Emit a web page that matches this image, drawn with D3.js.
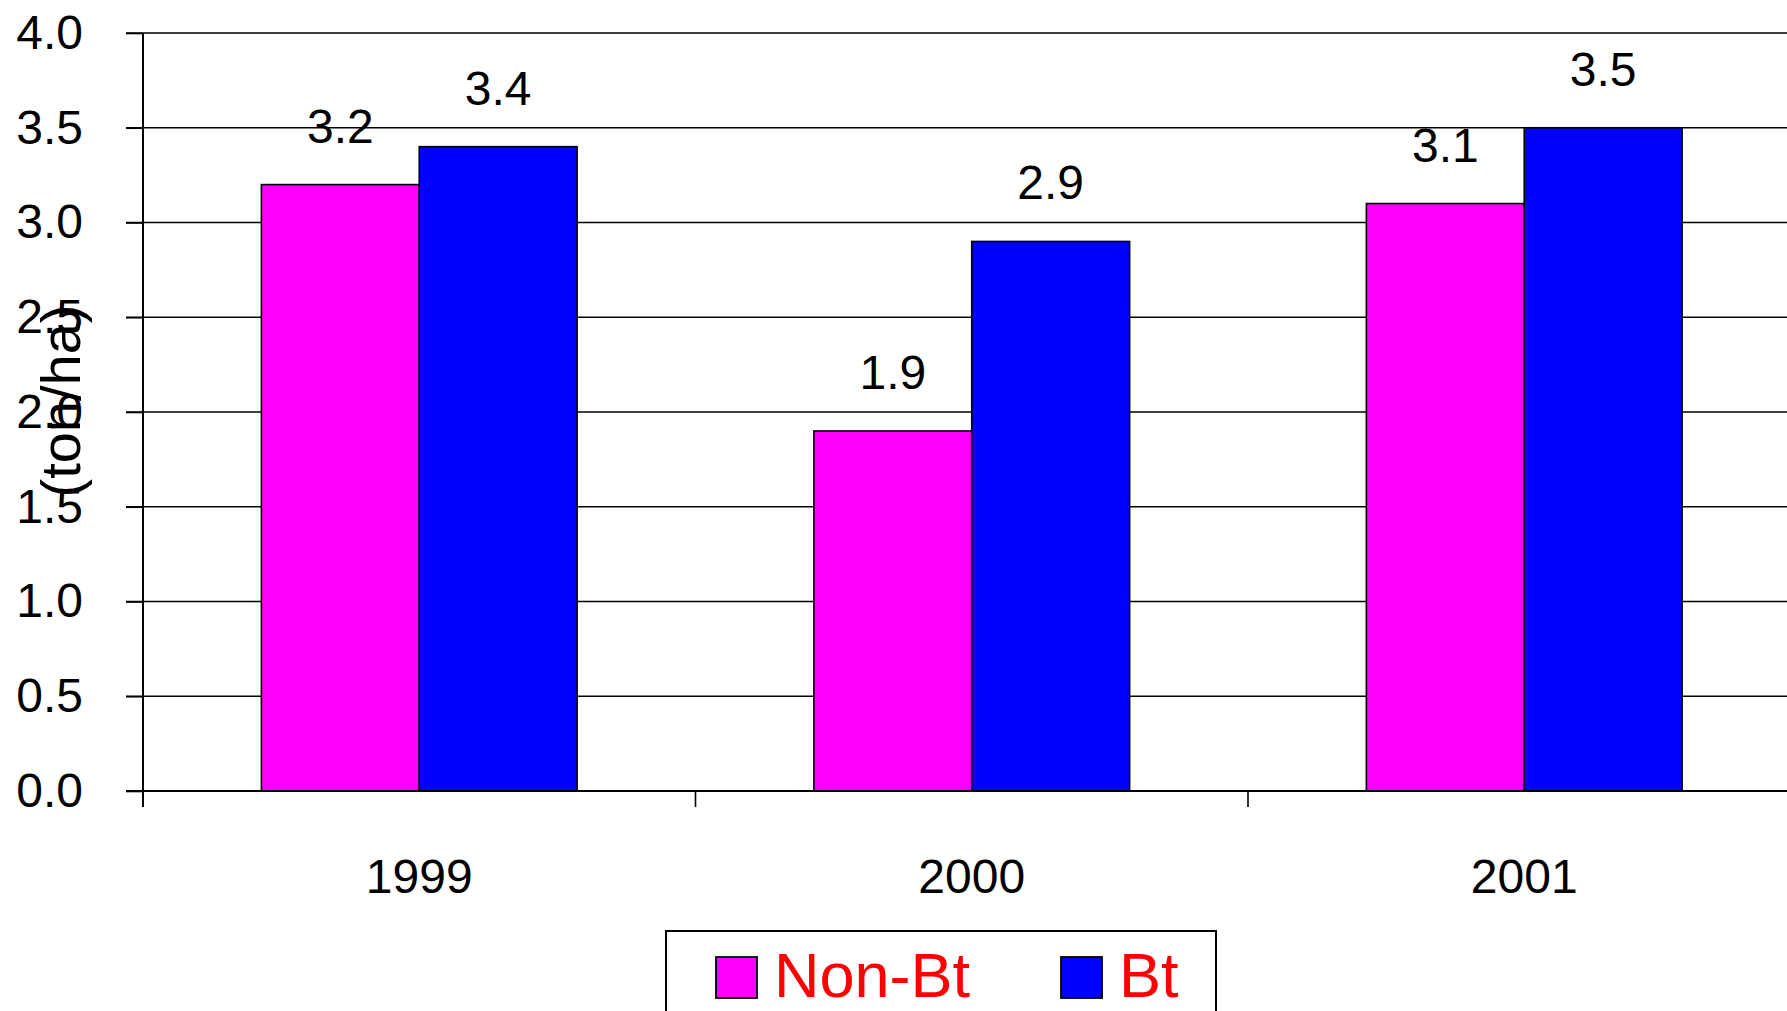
<!DOCTYPE html>
<html>
<head>
<meta charset="utf-8">
<script src="https://cdn.jsdelivr.net/npm/d3@7"></script>
<style>
html,body{margin:0;padding:0;background:#fff;overflow:hidden;}
svg{display:block;font-family:"Liberation Sans",Arial,sans-serif;}
</style>
</head>
<body>
<svg id="chart" width="1787" height="1011"></svg>
<script>
const categories = ["1999", "2000", "2001"];
const seriesNames = ["Non-Bt", "Bt"];
const nonBt = [3.2, 1.9, 3.1];
const bt = [3.4, 2.9, 3.5];
const yTicks = [0, 0.5, 1.0, 1.5, 2.0, 2.5, 3.0, 3.5, 4.0];
const yTitle = "(ton/ha)";
const colors = ["#ff00ff", "#0000ff"];

(function () {
const svg = d3.select("#chart");
const mLeft = 143, mBottom = 791, mTop = 33;
const bandW = 552.5;

const x = d3.scaleBand().domain(categories).range([mLeft, mLeft + bandW * categories.length]).padding(0);
const xs = d3.scaleBand().domain(seriesNames)
  .range([bandW * 0.75 / 3.5, bandW * 2.75 / 3.5]).padding(0);
const y = d3.scaleLinear().domain([0, 4]).range([mBottom, mTop]);

// gridlines
svg.append("g").selectAll("line").data(yTicks.filter(d => d > 0)).join("line")
  .attr("x1", mLeft - 17).attr("x2", 1787)
  .attr("y1", d => y(d)).attr("y2", d => y(d))
  .attr("stroke", "#000").attr("stroke-width", 1.6);

// y axis
const yAxis = d3.axisLeft(y).tickValues(yTicks).tickFormat(d3.format(".1f")).tickSize(17).tickPadding(43);
const gy = svg.append("g").attr("transform", `translate(${mLeft},0)`).call(yAxis);
gy.select(".domain").remove();
gy.selectAll(".tick line").attr("stroke", "#000").attr("stroke-width", 1.6);
gy.selectAll(".tick text").attr("font-size", 48).attr("fill", "#000")
  .attr("font-family", "Liberation Sans, Arial, sans-serif");

// bars
const data = categories.map((c, i) => ({c, vals: [nonBt[i], bt[i]]}));
const groups = svg.append("g").selectAll("g").data(data).join("g")
  .attr("transform", d => `translate(${x(d.c)},0)`);
groups.selectAll("rect").data(d => d.vals.map((v, j) => ({v, s: seriesNames[j], j}))).join("rect")
  .attr("x", d => xs(d.s)).attr("width", xs.bandwidth())
  .attr("y", d => y(d.v)).attr("height", d => y(0) - y(d.v))
  .attr("fill", d => colors[d.j]).attr("stroke", "#000").attr("stroke-width", 1.6);
groups.selectAll("text").data(d => d.vals.map((v, j) => ({v, s: seriesNames[j], j}))).join("text")
  .attr("x", d => xs(d.s) + xs.bandwidth() / 2).attr("y", d => y(d.v) - 42)
  .attr("text-anchor", "middle").attr("font-size", 48).attr("fill", "#000")
  .text(d => d3.format(".1f")(d.v));

// x axis
svg.append("line").attr("x1", mLeft - 17).attr("x2", 1787).attr("y1", mBottom).attr("y2", mBottom)
  .attr("stroke", "#000").attr("stroke-width", 2);
svg.append("line").attr("x1", mLeft).attr("x2", mLeft).attr("y1", mTop).attr("y2", mBottom + 16)
  .attr("stroke", "#000").attr("stroke-width", 2);
const xAxis = d3.axisBottom(x).tickSize(0).tickPadding(0);
const gx = svg.append("g").attr("transform", `translate(0,${mBottom})`).call(xAxis);
gx.select(".domain").remove();
gx.selectAll(".tick text").attr("font-size", 48).attr("fill", "#000").attr("dy", 0).attr("y", 102)
  .attr("font-family", "Liberation Sans, Arial, sans-serif");
svg.append("g").selectAll("line").data(categories.slice(1)).join("line")
  .attr("x1", d => x(d)).attr("x2", d => x(d)).attr("y1", mBottom).attr("y2", mBottom + 16)
  .attr("stroke", "#000").attr("stroke-width", 1.6);

// y title
svg.append("text").attr("transform", `translate(80,401) rotate(-90)`)
  .attr("text-anchor", "middle").attr("font-size", 56).attr("fill", "#000").text(yTitle);

// legend
const lg = svg.append("g");
lg.append("rect").attr("x", 666).attr("y", 931).attr("width", 550).attr("height", 100)
  .attr("fill", "#fff").attr("stroke", "#000").attr("stroke-width", 2);
const legX = [716, 1061];
seriesNames.forEach((s, i) => {
  lg.append("rect").attr("x", legX[i]).attr("y", 957).attr("width", 41).attr("height", 41)
    .attr("fill", colors[i]).attr("stroke", "#000").attr("stroke-width", 1.8);
  lg.append("text").attr("x", legX[i] + 58).attr("y", 997).attr("font-size", 63).attr("fill", "#ff0000").text(s);
});
})();
</script>
</body>
</html>
